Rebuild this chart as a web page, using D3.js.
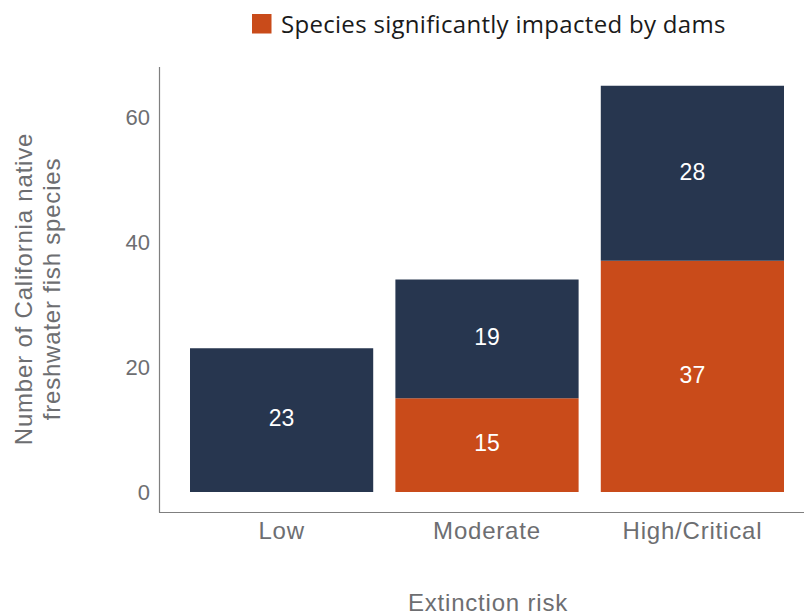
<!DOCTYPE html>
<html>
<head>
<meta charset="utf-8">
<script src="https://cdn.jsdelivr.net/npm/d3@7"></script>
<style>
  html, body { margin: 0; padding: 0; background: #fff; }
  svg { display: block; }
</style>
</head>
<body>
<svg id="chart" width="804" height="614"></svg>
<script>
// Extinction-risk groups and stacked species counts
const categories = ["Low", "Moderate", "High/Critical"];
const impacted = [0, 15, 37];        // species significantly impacted by dams
const notImpacted = [23, 19, 28];    // remaining species
const yTicks = [0, 20, 40, 60];

const navy = "#27364f";
const orange = "#c94b1a";
const axisGray = "#6d6e71";
const font = "Liberation Sans, Arial, sans-serif";

const svg = d3.select("#chart");

const x = d3.scaleBand()
  .domain(categories)
  .range([190, 784])
  .paddingInner(0.108)
  .paddingOuter(0);

const y = d3.scaleLinear()
  .domain([0, 60])
  .range([492, 117]);

// Axis lines
svg.append("line")
  .attr("x1", 159.5).attr("x2", 159.5)
  .attr("y1", 67).attr("y2", 512.5)
  .attr("stroke", "#7f7f7f").attr("stroke-width", 1.2);
svg.append("line")
  .attr("x1", 159).attr("x2", 804)
  .attr("y1", 512.5).attr("y2", 512.5)
  .attr("stroke", "#7f7f7f").attr("stroke-width", 1.2);

// Y tick labels
svg.append("g").selectAll("text")
  .data(yTicks).join("text")
  .attr("x", 150)
  .attr("y", d => y(d))
  .attr("dy", "0.36em")
  .attr("text-anchor", "end")
  .attr("font-family", font)
  .attr("font-size", 22)
  .attr("fill", axisGray)
  .text(d => d);

// X category labels
svg.append("g").selectAll("text")
  .data(categories).join("text")
  .attr("x", d => x(d) + x.bandwidth() / 2)
  .attr("y", 539)
  .attr("text-anchor", "middle")
  .attr("font-family", font)
  .attr("font-size", 24)
  .attr("letter-spacing", 0.8)
  .attr("fill", axisGray)
  .text(d => d);

// Axis titles
svg.append("text")
  .attr("x", 488).attr("y", 610.5)
  .attr("text-anchor", "middle")
  .attr("font-family", font)
  .attr("font-size", 24)
  .attr("letter-spacing", 0.8)
  .attr("fill", axisGray)
  .text("Extinction risk");

const yTitle = svg.append("text")
  .attr("transform", "translate(32,289) rotate(-90)")
  .attr("text-anchor", "middle")
  .attr("font-family", font)
  .attr("font-size", 24)
  .attr("letter-spacing", 0.8)
  .attr("fill", axisGray);
yTitle.append("tspan").attr("x", 0).attr("dy", 0).text("Number of California native");
yTitle.append("tspan").attr("x", 0).attr("dy", 28).text("freshwater fish species");

// Stacked segments
const rows = categories.map((c, i) => ({ cat: c, impacted: impacted[i], other: notImpacted[i] }));
const stack = d3.stack().keys(["impacted", "other"])(rows);
const colors = { impacted: orange, other: navy };

const layers = svg.append("g").selectAll("g")
  .data(stack).join("g")
  .attr("fill", d => colors[d.key]);

layers.selectAll("rect")
  .data(d => d.filter(s => s[1] - s[0] > 0))
  .join("rect")
  .attr("x", d => x(d.data.cat))
  .attr("width", x.bandwidth())
  .attr("y", d => y(d[1]))
  .attr("height", d => y(d[0]) - y(d[1]));

// Value labels inside each segment
layers.selectAll("text")
  .data(d => d.filter(s => s[1] - s[0] > 0))
  .join("text")
  .attr("x", d => x(d.data.cat) + x.bandwidth() / 2)
  .attr("y", d => (y(d[0]) + y(d[1])) / 2 - 2)
  .attr("dy", "0.36em")
  .attr("text-anchor", "middle")
  .attr("font-family", font)
  .attr("font-size", 23)
  .attr("fill", "#ffffff")
  .text(d => d[1] - d[0]);

// Legend
svg.append("rect")
  .attr("x", 252).attr("y", 14)
  .attr("width", 19.5).attr("height", 19.5)
  .attr("fill", orange);
svg.append("text")
  .attr("x", 281).attr("y", 33)
  .attr("font-family", "'Open Sans', Lato, sans-serif")
  .attr("font-size", 24)
  .attr("letter-spacing", 0.3)
  .attr("fill", "#1a1a1a")
  .text("Species significantly impacted by dams");
</script>
</body>
</html>
